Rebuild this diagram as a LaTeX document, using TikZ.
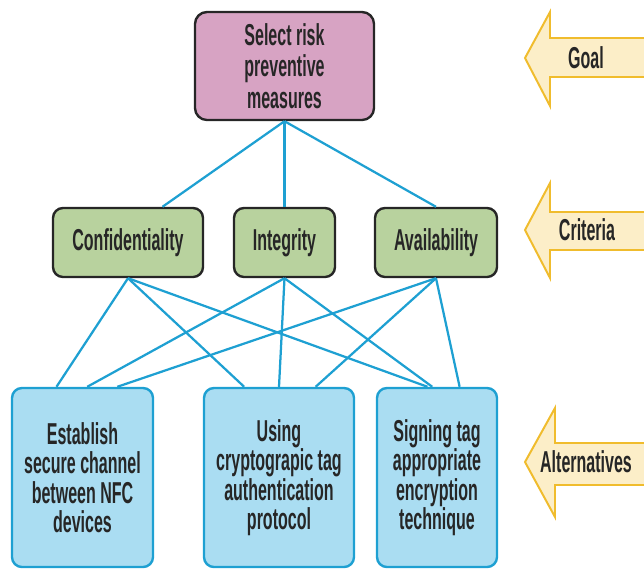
\documentclass[tikz,border=0pt]{standalone}
\usepackage{fontspec}
\newfontfamily\narrowsans[FakeStretch=0.53]{Liberation Sans}
\usetikzlibrary{positioning}
\definecolor{goalpink}{RGB}{215,163,195}
\definecolor{critgreen}{RGB}{184,210,158}
\definecolor{altblue}{RGB}{170,221,242}
\definecolor{linkblue}{RGB}{30,160,210}
\definecolor{tagfill}{RGB}{252,238,200}
\definecolor{tagedge}{RGB}{240,188,45}

\begin{document}
\begin{tikzpicture}[x=0.025cm, y=-0.025cm,
        boxtext/.style={font=\narrowsans\bfseries\fontsize{21.5pt}{21pt}\selectfont, text=black!85, align=center, inner sep=1pt},
        goal/.style={boxtext, rectangle, rounded corners=0.3cm, draw=black!85, line width=1.7pt, fill=goalpink, minimum width=4.475cm, minimum height=2.7cm, font=\narrowsans\bfseries\fontsize{21.5pt}{22.5pt}\selectfont},
        criterion/.style={boxtext, rectangle, rounded corners=0.25cm, draw=black!85, line width=1.7pt, fill=critgreen, minimum height=1.725cm},
        alternative/.style={boxtext, rectangle, rounded corners=0.25cm, draw=linkblue, line width=1.7pt, fill=altblue, minimum height=4.475cm},
        link/.style={linkblue, line width=1.6pt},
        tag/.style={fill=tagfill, draw=tagedge, line width=1.4pt, line join=miter}
    ]
        \useasboundingbox (0,0) rectangle (644,568);

        \begin{scope}
            \clip (0,0) rectangle (644,568);
            \draw[tag] (660,38) -- (550,38) -- (550,12) -- (525,58) -- (550,106) -- (550,77) -- (660,77);
            \draw[tag] (660,212) -- (550,212) -- (550,183) -- (525,230) -- (550,278) -- (550,250) -- (660,250);
            \draw[tag] (660,443) -- (555,443) -- (555,408) -- (525,462) -- (555,517) -- (555,485) -- (660,485);
        \end{scope}

        \node[boxtext] (goaltag) at (586,58) {Goal};
        \node[boxtext] (crittag) at (587,230) {Criteria};
        \node[boxtext] (alttag) at (586,462) {Alternatives};

        \node[goal] (select) at (284.5,66) {Select risk\\preventive\\measures};

        \node[criterion, minimum width=3.75cm] (conf) at (128,242.5) {Confidentiality};
        \node[criterion, minimum width=2.525cm] (integ) at (284.5,242.5) {Integrity};
        \node[criterion, minimum width=3.05cm] (avail) at (436,242.5) {Availability};

        \node[alternative, minimum width=3.525cm] (channel) at (82.5,477.5) {Establish\\secure channel\\between NFC\\devices};
        \node[alternative, minimum width=3.75cm] (authtag) at (279,477.5) {Using\\cryptograpic tag\\authentication\\protocol};
        \node[alternative, minimum width=3cm] (signtag) at (437,477.5) {Signing tag\\appropriate\\encryption\\technique};

        \draw[link] (select.south) -- (conf.46);
        \draw[link] (select.south) -- (integ.north);
        \draw[link] (select.south) -- (avail.north);

        \draw[link] (conf.south) -- (channel.106);
        \draw[link] (conf.south) -- (authtag.111);
        \draw[link] (conf.south) -- (signtag.96);
        \draw[link] (integ.south) -- (channel.87);
        \draw[link] (integ.south) -- (authtag.north);
        \draw[link] (integ.south) -- (signtag.93);
        \draw[link] (avail.south) -- (channel.69);
        \draw[link] (avail.south) -- (authtag.68);
        \draw[link] (avail.south) -- (signtag.76);
    \end{tikzpicture}
\end{document}
